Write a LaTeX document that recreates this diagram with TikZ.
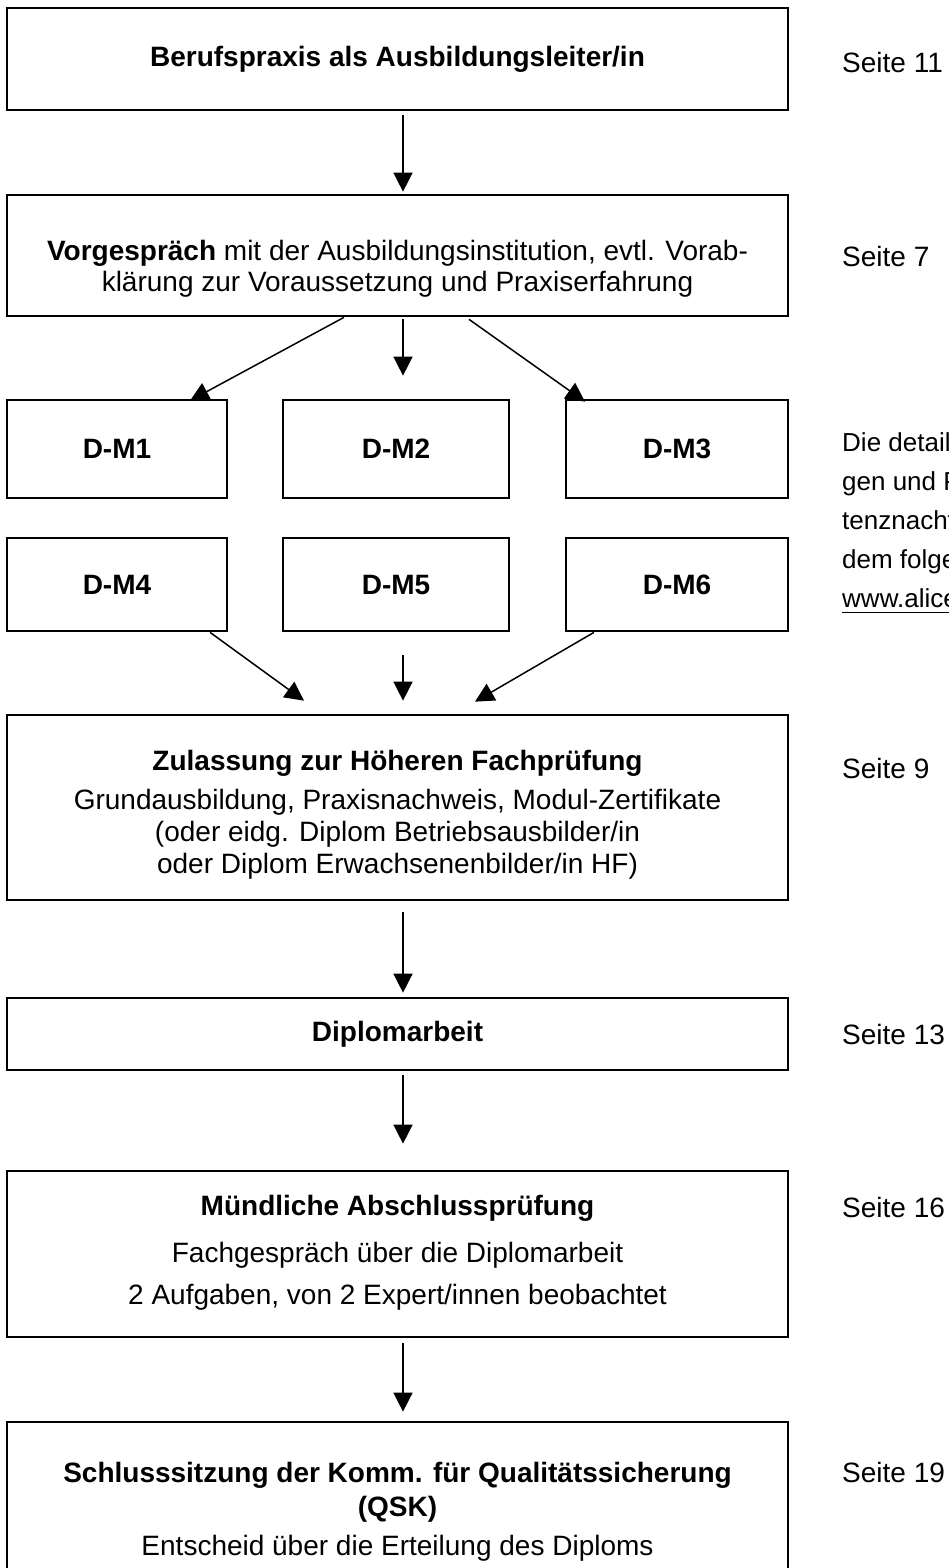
\documentclass[tikz,border=0pt]{standalone}
\usepackage{fontspec}
\setmainfont{Liberation Sans}
\usetikzlibrary{arrows.meta}
\begin{document}
\begin{tikzpicture}[x=1pt,y=-1pt,
  box/.style={draw, line width=2.7pt, rectangle, inner sep=0pt, align=center, font=\fontsize{28}{32}\selectfont},
  txt/.style={anchor=base, inner sep=0pt, font=\fontsize{28}{32}\selectfont},
  arr/.style={line width=1.5pt, -{Triangle[length=19pt,width=19pt]}},
  pagelbl/.style={anchor=west, inner sep=0pt, font=\fontsize{28}{32}\selectfont},
  note/.style={anchor=base west, inner sep=0pt, font=\fontsize{26}{30}\selectfont}]
\useasboundingbox (0,0) rectangle (949,1568);
\fill[white] (0,0) rectangle (949,1568);
\coordinate (col) at (403,0);

% main boxes
\node[box, minimum width=781pt, minimum height=102pt] (b1) at (397.5,59) {\textbf{Berufspraxis als Ausbildungsleiter/in}};

\node[box, minimum width=781pt, minimum height=121pt] (b2) at (397.5,255.5) {};
\node[txt] (b2a) at (397.5,260) {\textbf{Vorgespräch} mit der Ausbildungsinstitution, evtl. Vorab-};
\node[txt] (b2b) at (397.5,291) {klärung zur Voraussetzung und Praxiserfahrung};

\node[box, minimum width=220pt, minimum height=98pt] (dm1) at (117,449) {\textbf{D-M1}};
\node[box, minimum width=226pt, minimum height=98pt] (dm2) at (396,449) {\textbf{D-M2}};
\node[box, minimum width=222pt, minimum height=98pt] (dm3) at (677,449) {\textbf{D-M3}};
\node[box, minimum width=220pt, minimum height=93pt] (dm4) at (117,584.5) {\textbf{D-M4}};
\node[box, minimum width=226pt, minimum height=93pt] (dm5) at (396,584.5) {\textbf{D-M5}};
\node[box, minimum width=222pt, minimum height=93pt] (dm6) at (677,584.5) {\textbf{D-M6}};

\node[box, minimum width=781pt, minimum height=185pt] (zul) at (397.5,807.5) {};
\node[txt] (zula) at (397.5,770) {\textbf{Zulassung zur Höheren Fachprüfung}};
\node[txt] (zulb) at (397.5,809) {Grundausbildung, Praxisnachweis, Modul-Zertifikate};
\node[txt] (zulc) at (397.5,841) {(oder eidg. Diplom Betriebsausbilder/in};
\node[txt] (zuld) at (397.5,873) {oder Diplom Erwachsenenbilder/in HF)};

\node[box, minimum width=781pt, minimum height=72pt] (dip) at (397.5,1034) {\textbf{Diplomarbeit}};

\node[box, minimum width=781pt, minimum height=166pt] (mue) at (397.5,1254) {};
\node[txt] (muea) at (397.5,1215) {\textbf{Mündliche Abschlussprüfung}};
\node[txt] (mueb) at (397.5,1262) {Fachgespräch über die Diplomarbeit};
\node[txt] (muec) at (397.5,1304) {2 Aufgaben, von 2 Expert/innen beobachtet};

\node[box, minimum width=781pt, minimum height=180pt] (qsk) at (397.5,1512) {};
\node[txt] (qska) at (397.5,1482) {\textbf{Schlusssitzung der Komm. für Qualitätssicherung}};
\node[txt] (qskb) at (397.5,1516) {\textbf{(QSK)}};
\node[txt] (qskc) at (397.5,1555) {Entscheid über die Erteilung des Diploms};

% page labels
\node[pagelbl] (s11) at (842,62) {Seite 11};
\node[pagelbl] (s7) at (842,256) {Seite 7};
\node[pagelbl] (s9) at (842,768) {Seite 9};
\node[pagelbl] (s13) at (842,1034) {Seite 13};
\node[pagelbl] (s16) at (842,1207) {Seite 16};
\node[pagelbl] (s19) at (842,1472) {Seite 19};

% cut-off note on the right (the reference crops it at the page edge)
\begin{scope}
\clip (0,0) rectangle (949,1568);
\node[note] (r1) at (842,451) {Die detail};
\node[note] (r2) at (842,490) {gen und P};
\node[note] (r3) at (842,529) {tenznacht};
\node[note] (r4) at (842,568) {dem folge};
\node[note] (r5) at (842,607) {www.alice};
\draw[line width=1.3pt] ([yshift=-5pt]r5.south west) -- ([yshift=-5pt,xshift=10pt]r5.south east);
\end{scope}

% connectors
\draw[arr, shorten <=4pt, shorten >=2pt] (b1.south -| col) -- (b2.north -| col);
\draw[arr, shorten <=2pt, shorten >=23pt] (b2.south -| col) -- (dm2.north -| col);
\draw[arr] ([xshift=-53.5pt]b2.south) -- ([xshift=73pt,yshift=-2pt]dm1.north);
\draw[arr] ([xshift=71.5pt,yshift=-2pt]b2.south) -- ([xshift=-92pt,yshift=-3pt]dm3.north);
\draw[arr, shorten <=23pt, shorten >=13pt] (dm5.south -| col) -- (zul.north -| col);
\draw[arr] ([xshift=93pt]dm4.south) -- ([xshift=-93.5pt,yshift=13pt]zul.north);
\draw[arr] ([xshift=-83pt]dm6.south) -- ([xshift=77.5pt,yshift=12pt]zul.north);
\draw[arr, shorten <=11pt, shorten >=4pt] (zul.south -| col) -- (dip.north -| col);
\draw[arr, shorten <=4pt, shorten >=26pt] (dip.south -| col) -- (mue.north -| col);
\draw[arr, shorten <=5pt, shorten >=9pt] (mue.south -| col) -- (qsk.north -| col);
\end{tikzpicture}
\end{document}
